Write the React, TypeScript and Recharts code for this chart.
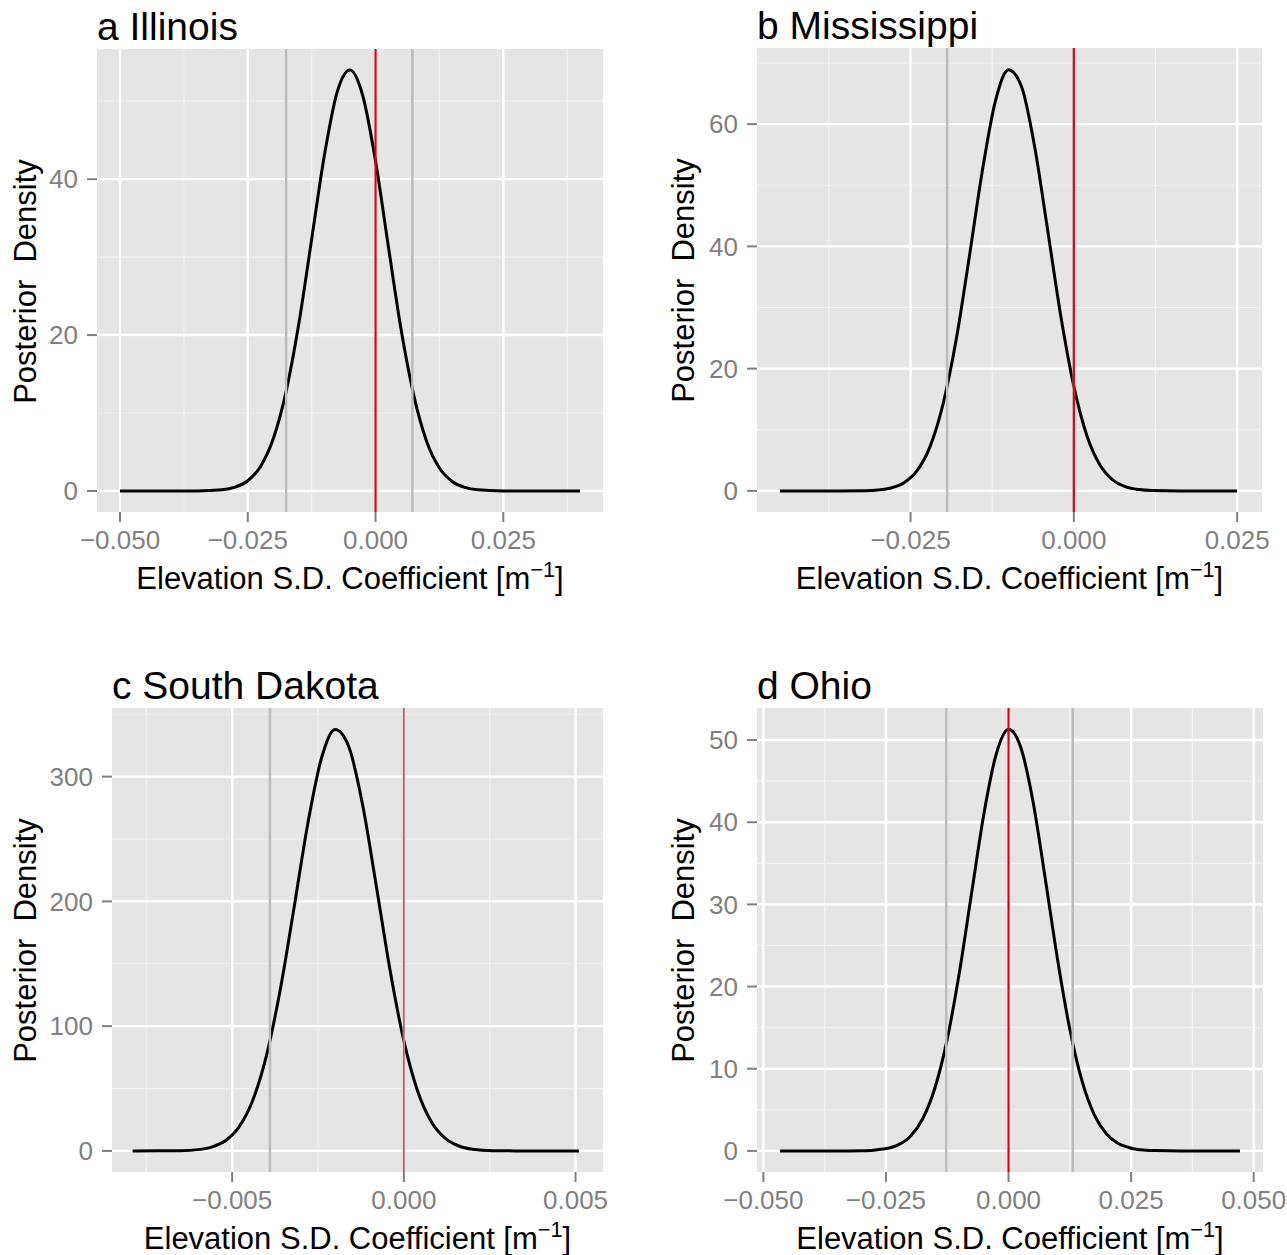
import { CartesianGrid, Line, LineChart, ReferenceLine, XAxis, YAxis } from 'recharts';

// posterior density curves (x = coefficient, y = density)
const ilX = [-0.05, -0.04, -0.035, -0.03, -0.0275, -0.025, -0.0225, -0.02, -0.0175, -0.015, -0.0125, -0.01, -0.0075, -0.005, -0.0025, 0, 0.0025, 0.005, 0.0075, 0.01, 0.0125, 0.015, 0.0175, 0.02, 0.025, 0.03, 0.04];
const ilY = [0, 0, 0.01, 0.16, 0.49, 1.31, 3.15, 6.73, 12.75, 21.5, 32.3, 43.1, 51.2, 54.0, 50.7, 42.3, 31.4, 20.7, 12.2, 6.36, 2.95, 1.22, 0.45, 0.15, 0.01, 0, 0];

const msX = [-0.045, -0.036, -0.032, -0.03, -0.028, -0.026, -0.024, -0.022, -0.02, -0.018, -0.016, -0.014, -0.012, -0.01, -0.008, -0.006, -0.004, -0.002, 0, 0.002, 0.004, 0.006, 0.008, 0.01, 0.012, 0.016, 0.02, 0.025];
const msY = [0, 0, 0.04, 0.15, 0.48, 1.33, 3.3, 7.28, 14.3, 24.8, 38.3, 52.4, 63.8, 68.9, 66.1, 56.3, 42.6, 28.6, 17.1, 9.03, 4.24, 1.77, 0.66, 0.22, 0.06, 0, 0, 0];

const sdX = [-0.0079, -0.0065, -0.006, -0.0056, -0.0052, -0.0048, -0.0044, -0.004, -0.0036, -0.0032, -0.0028, -0.0024, -0.002, -0.0016, -0.0012, -0.0008, -0.0004, 0, 0.0004, 0.0008, 0.0012, 0.0016, 0.002, 0.0026, 0.0035, 0.0051];
const sdY = [0, 0.23, 1.03, 3.06, 8.1, 19.2, 40.6, 76.6, 129.2, 194.6, 261.9, 314.7, 337.7, 323.7, 277.2, 211.9, 144.6, 88.2, 48.1, 23.4, 10.2, 3.95, 1.37, 0.23, 0.01, 0];

const ohX = [-0.0466, -0.035, -0.03, -0.0275, -0.025, -0.0225, -0.02, -0.0175, -0.015, -0.0125, -0.01, -0.0075, -0.005, -0.0025, 0, 0.0025, 0.005, 0.0075, 0.01, 0.0125, 0.015, 0.0175, 0.02, 0.0225, 0.025, 0.0275, 0.03, 0.035, 0.0472];
const ohY = [0, 0, 0.03, 0.09, 0.28, 0.74, 1.79, 3.91, 7.68, 13.6, 21.8, 31.5, 41.1, 48.3, 51.3, 49.1, 42.5, 33.1, 23.3, 14.8, 8.48, 4.39, 2.05, 0.86, 0.33, 0.11, 0.04, 0, 0];

// credible interval bounds (grey) and zero line (red)
const ilInterval = [-0.0175, 0.0072];
const msInterval = [-0.0194, 0.0];
const sdInterval = [-0.0039, 0.0];
const ohInterval = [-0.0127, 0.0131];

const FONT = '"Liberation Sans", Arial, Helvetica, sans-serif';

const fmt = (v: number) => v.toFixed(3).replace('-', '\u2212');

function Panel(props: {
  left: number; top: number; w: number; h: number; yTitleX: number;
  xs: number[]; ys: number[];
  xDomain: [number, number]; yDomain: [number, number];
  xMajor: number[]; xMinor: number[]; yMajor: number[]; yMinor: number[];
  grey: number[]; red: number[]; redWidth: number;
  title: string;
}) {
  const { left, top, w, h, xs, ys } = props;
  const data = xs.map((x, i) => ({ x, y: ys[i] }));
  const tickStyle = { fill: '#7f7f7f', fontSize: 26, fontFamily: FONT };
  const tickLine = { stroke: '#7f7f7f', strokeWidth: 2 };
  return (
    <>
      <div style={{ position: 'absolute', left, top: top - 42, fontFamily: FONT, fontSize: 39, lineHeight: '39px', color: '#000', whiteSpace: 'nowrap' }}>
        {props.title}
      </div>
      <div style={{ position: 'absolute', left: left - 80, top: top - 5 }}>
        <LineChart width={w + 80 + 24} height={h + 65} data={data} margin={{ top: 5, right: 24, bottom: 0, left: 0 }}>
          <CartesianGrid fill="#e5e5e5" stroke="#f2f2f2" strokeWidth={1.2} verticalValues={props.xMinor} horizontalValues={props.yMinor} />
          <CartesianGrid stroke="#ffffff" strokeWidth={2.4} verticalValues={props.xMajor} horizontalValues={props.yMajor} />
          <XAxis dataKey="x" type="number" domain={props.xDomain} ticks={props.xMajor} allowDataOverflow interval={0}
            height={60} axisLine={false} tickLine={tickLine} tickSize={10} tickMargin={9} tick={tickStyle} tickFormatter={fmt} />
          <YAxis type="number" domain={props.yDomain} ticks={props.yMajor} allowDataOverflow interval={0}
            width={80} axisLine={false} tickLine={tickLine} tickSize={10} tickMargin={9} tick={tickStyle} />
          <Line type="monotone" dataKey="y" stroke="#000" strokeWidth={3} dot={false} isAnimationActive={false} />
          {props.grey.map((v) => (
            <ReferenceLine key={'g' + v} x={v} stroke="#bababa" strokeWidth={2.4} />
          ))}
          {props.red.map((v) => (
            <ReferenceLine key={'r' + v} x={v} stroke="#e3000b" strokeWidth={props.redWidth} />
          ))}
        </LineChart>
      </div>
      <div style={{ position: 'absolute', left: left + w / 2 - 300, width: 600, top: top + h + 51, textAlign: 'center', fontFamily: FONT, fontSize: 31, lineHeight: '31px', color: '#000', whiteSpace: 'nowrap' }}>
        Elevation S.D. Coefficient [m
        <span style={{ position: 'relative', top: '-0.55em', fontSize: '0.7em' }}>{'\u2212'}1</span>]
      </div>
      <div style={{ position: 'absolute', left: props.yTitleX - h / 2, top: top + h / 2 - 15, width: h, height: 31, transform: 'rotate(-90deg)', textAlign: 'center', fontFamily: FONT, fontSize: 31, lineHeight: '31px', color: '#000', whiteSpace: 'pre' }}>
        {'Posterior  Density'}
      </div>
    </>
  );
}

export default function App() {
  return (
    <div style={{ position: 'absolute', left: 0, top: 0, width: 1287, height: 1255, background: '#fff', overflow: 'hidden' }}>
      <Panel left={97} top={49} w={506} h={463} yTitleX={25} xs={ilX} ys={ilY}
        xDomain={[-0.0545, 0.0445]} yDomain={[-2.7, 56.7]}
        xMajor={[-0.05, -0.025, 0, 0.025]} xMinor={[-0.0375, -0.0125, 0.0125, 0.0375]}
        yMajor={[0, 20, 40]} yMinor={[10, 30, 50]}
        grey={ilInterval} red={[0]} redWidth={2.2} title="a Illinois" />
      <Panel left={757} top={48} w={505} h={464} yTitleX={683} xs={msX} ys={msY}
        xDomain={[-0.0485, 0.0288]} yDomain={[-3.45, 72.45]}
        xMajor={[-0.025, 0, 0.025]} xMinor={[-0.0375, -0.0125, 0.0125]}
        yMajor={[0, 20, 40, 60]} yMinor={[10, 30, 50, 70]}
        grey={msInterval} red={[0]} redWidth={2.2} title="b Mississippi" />
      <Panel left={112} top={708} w={491} h={464} yTitleX={25} xs={sdX} ys={sdY}
        xDomain={[-0.0085, 0.0058]} yDomain={[-16.9, 355]}
        xMajor={[-0.005, 0, 0.005]} xMinor={[-0.0075, -0.0025, 0.0025]}
        yMajor={[0, 100, 200, 300]} yMinor={[50, 150, 250, 350]}
        grey={sdInterval} red={[0]} redWidth={0.8} title="c South Dakota" />
      <Panel left={757} top={708} w={506} h={464} yTitleX={683} xs={ohX} ys={ohY}
        xDomain={[-0.0513, 0.0519]} yDomain={[-2.57, 53.9]}
        xMajor={[-0.05, -0.025, 0, 0.025, 0.05]} xMinor={[-0.0375, -0.0125, 0.0125, 0.0375]}
        yMajor={[0, 10, 20, 30, 40, 50]} yMinor={[5, 15, 25, 35, 45]}
        grey={ohInterval} red={[0]} redWidth={2.2} title="d Ohio" />
    </div>
  );
}
